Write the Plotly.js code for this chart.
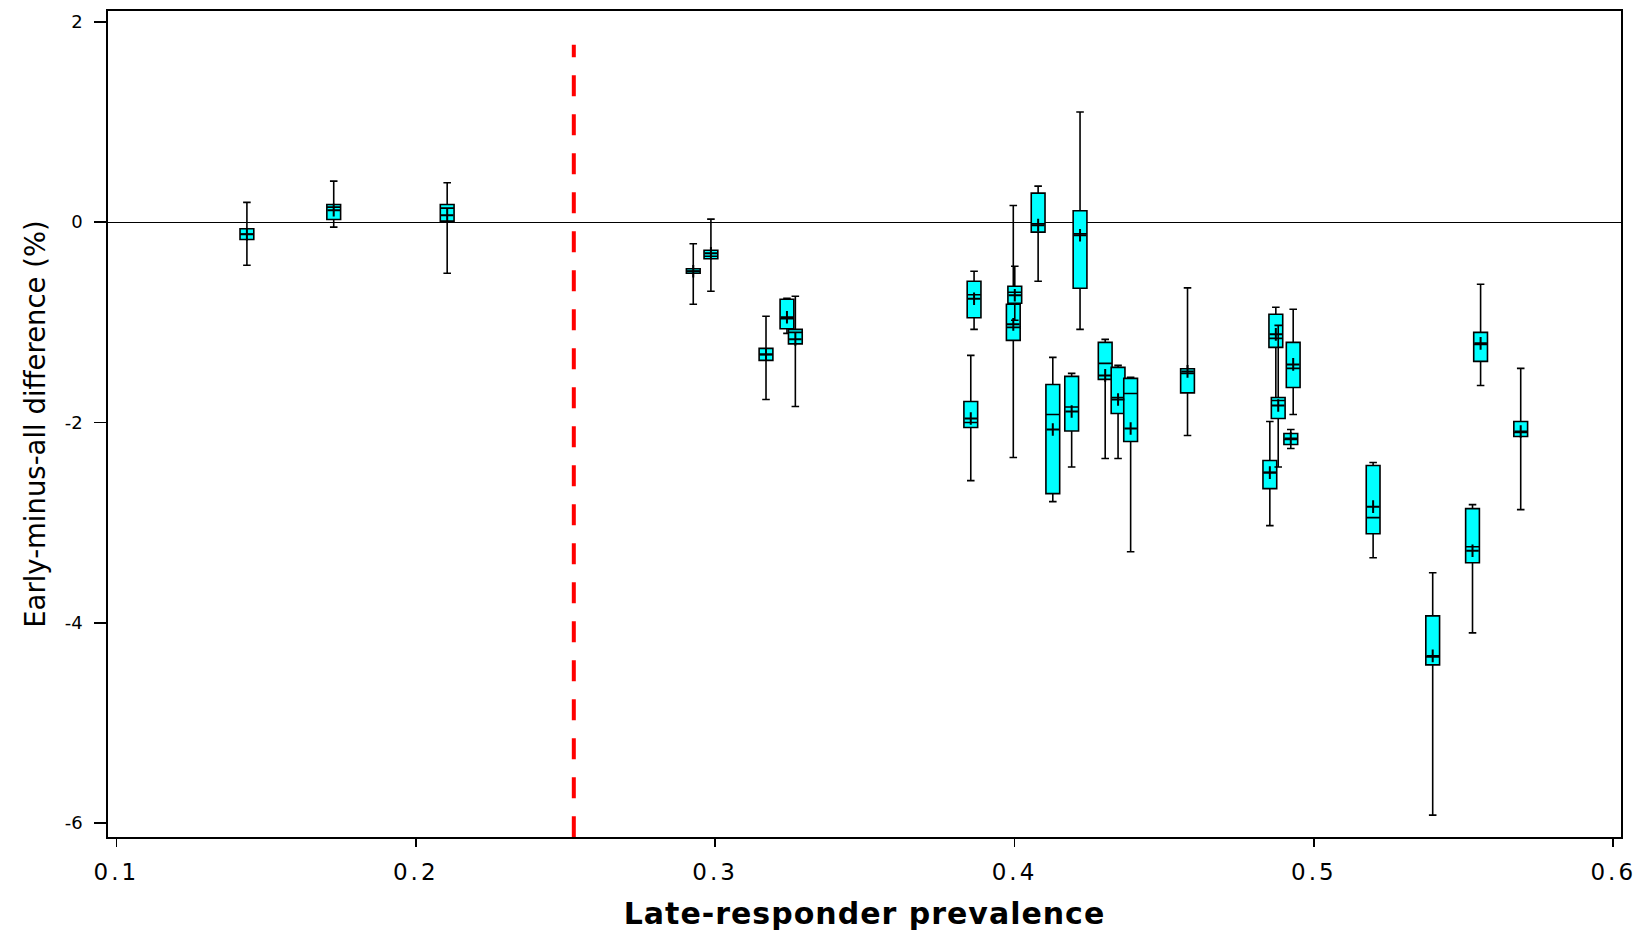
<!DOCTYPE html>
<html>
<head>
<meta charset="utf-8">
<script src="https://cdn.plot.ly/plotly-3.0.1.min.js"></script>
<style>
  html, body { margin: 0; padding: 0; background: #ffffff; }
  #chart { width: 1645px; height: 933px; }
  .xtitle { letter-spacing: 1px; }
  .xtick text { letter-spacing: 3px; }
</style>
</head>
<body>
<div id="chart"></div>
<script>
// Late-responder prevalence (x position of each box)
var prevalence = [0.1436, 0.1726, 0.2105, 0.2927, 0.2986, 0.3170, 0.3240, 0.3268,
                  0.3854, 0.3865, 0.3996, 0.4001, 0.4079, 0.4128, 0.4191, 0.4219,
                  0.4303, 0.4346, 0.4388, 0.4578, 0.4853, 0.4873, 0.4881, 0.4923,
                  0.4931, 0.5198, 0.5397, 0.5530, 0.5557, 0.5691];
// Early-minus-all difference (%) box statistics
var upperWhisker = [0.197, 0.41, 0.393, -0.216, 0.03, -0.94, -0.76, -0.74,
                    -1.33, -0.49, 0.167, -0.44, 0.36, -1.35, -1.51, 1.10,
                    -1.17, -1.43, -1.55, -0.656, -1.99, -0.85, -1.03, -2.07,
                    -0.87, -2.40, -3.50, -2.82, -0.62, -1.46];
var q3Values = [-0.066, 0.177, 0.177, -0.465, -0.28, -1.26, -0.77, -1.07,
                -1.79, -0.59, -0.82, -0.64, 0.29, -1.62, -1.54, 0.114,
                -1.20, -1.45, -1.56, -1.464, -2.38, -0.92, -1.75, -2.11,
                -1.20, -2.43, -3.93, -2.86, -1.10, -1.99];
var medianValues = [-0.12, 0.15, 0.14, -0.49, -0.34, -1.32, -0.965, -1.10,
                    -2.00, -0.725, -1.05, -0.70, -0.016, -1.92, -1.846, -0.116,
                    -1.41, -1.75, -1.71, -1.51, -2.50, -1.16, -1.78, -2.17,
                    -1.46, -2.95, -4.34, -3.24, -1.22, -2.10];
var q1Values = [-0.173, 0.027, 0.01, -0.51, -0.365, -1.38, -1.064, -1.215,
                -2.05, -0.955, -1.18, -0.81, -0.10, -2.71, -2.085, -0.66,
                -1.57, -1.91, -2.19, -1.704, -2.66, -1.25, -1.96, -2.22,
                -1.65, -3.11, -4.42, -3.40, -1.39, -2.14];
var lowerWhisker = [-0.43, -0.05, -0.51, -0.82, -0.69, -1.77, -1.11, -1.84,
                    -2.58, -1.07, -2.35, -0.98, -0.59, -2.79, -2.445, -1.07,
                    -2.36, -2.36, -3.29, -2.13, -3.03, -1.80, -2.445, -2.26,
                    -1.92, -3.35, -5.92, -4.10, -1.63, -2.87];
var meanValues = [-0.12, 0.12, 0.07, -0.49, -0.31, -1.32, -0.95, -1.17,
                  -1.96, -0.765, -1.02, -0.73, -0.03, -2.07, -1.89, -0.13,
                  -1.53, -1.77, -2.06, -1.49, -2.50, -1.12, -1.83, -2.16,
                  -1.42, -2.84, -4.33, -3.28, -1.21, -2.09];
// Cut-off marker (red dashed line)
var cutoffX = [0.2528, 0.2528];
var cutoffY = [-6.14, 1.77];
// Axis ticks
var xTicks = [0.1, 0.2, 0.3, 0.4, 0.5, 0.6];
var xTickLabels = ['0.1', '0.2', '0.3', '0.4', '0.5', '0.6'];
var yTicks = [-6, -4, -2, 0, 2];
var yTickLabels = ['-6', '-4', '-2', '0', '2'];

var boxTrace = {
  type: 'box',
  x: prevalence,
  q1: q1Values,
  median: medianValues,
  q3: q3Values,
  lowerfence: lowerWhisker,
  upperfence: upperWhisker,
  width: 0.0046,
  whiskerwidth: 0.55,
  fillcolor: '#00FFFF',
  line: { color: '#000000', width: 1.6 },
  boxpoints: false,
  hoverinfo: 'skip',
  showlegend: false
};

var meanTrace = {
  type: 'scatter',
  mode: 'markers',
  x: prevalence,
  y: meanValues,
  marker: { symbol: 'cross-thin', size: 9, line: { color: '#000000', width: 2 } },
  hoverinfo: 'skip',
  showlegend: false
};

var cutoffTrace = {
  type: 'scatter',
  mode: 'lines',
  x: cutoffX,
  y: cutoffY,
  line: { color: '#FF0000', width: 4, dash: '21px,18px' },
  hoverinfo: 'skip',
  showlegend: false
};

var layout = {
  width: 1645,
  height: 933,
  margin: { l: 108, r: 24, t: 10.5, b: 96 },
  paper_bgcolor: '#ffffff',
  plot_bgcolor: '#ffffff',
  boxmode: 'overlay',
  showlegend: false,
  font: { family: '"DejaVu Sans", sans-serif', color: '#000000' },
  xaxis: {
    range: [0.0972, 0.6026],
    tickmode: 'array',
    tickvals: xTicks,
    ticktext: xTickLabels,
    ticks: 'outside',
    ticklen: 8,
    tickwidth: 1.5,
    tickcolor: '#000000',
    ticklabelstandoff: 6,
    tickfont: { size: 23, family: '"DejaVu Sans", sans-serif', color: '#000000' },
    showline: true,
    linecolor: '#000000',
    linewidth: 1.6,
    mirror: true,
    showgrid: false,
    zeroline: false,
    title: {
      text: 'Late-responder prevalence',
      font: { size: 30, family: '"DejaVu Sans", sans-serif', weight: 'bold', color: '#000000' },
      standoff: 19
    }
  },
  yaxis: {
    range: [-6.138, 2.108],
    tickmode: 'array',
    tickvals: yTicks,
    ticktext: yTickLabels,
    ticks: 'outside',
    ticklen: 12,
    tickwidth: 1.5,
    tickcolor: '#000000',
    ticklabelstandoff: 8,
    tickfont: { size: 18, family: '"DejaVu Sans", sans-serif', color: '#000000' },
    showline: true,
    linecolor: '#000000',
    linewidth: 1.6,
    mirror: true,
    showgrid: false,
    zeroline: true,
    zerolinecolor: '#000000',
    zerolinewidth: 1.3,
    title: {
      text: 'Early-minus-all difference (%)',
      font: { size: 27.5, family: '"DejaVu Sans", sans-serif', color: '#000000' },
      standoff: 11
    }
  }
};

Plotly.newPlot('chart', [cutoffTrace, boxTrace, meanTrace], layout, { staticPlot: true, displayModeBar: false });
</script>
</body>
</html>
